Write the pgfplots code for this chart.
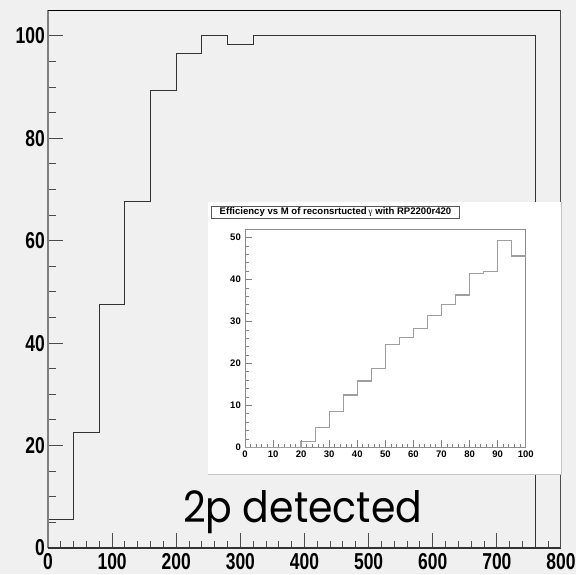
\documentclass[border=0pt]{standalone}
\usepackage{fontspec}
\setmainfont{Liberation Sans}
\newfontfamily\ticknarrow[FakeStretch=0.76]{Liberation Sans}
\newfontfamily\gammafont{Liberation Serif}
\newfontfamily\notefont{Poppins}
\usepackage{pgfplots}
\pgfplotsset{compat=1.18}
\definecolor{padgray}{HTML}{F0F0F0}

% efficiency histograms (bin left edge, content)
\pgfplotstableread{
x y
0 5.5
40 22.6
80 47.5
120 67.6
160 89.3
200 96.5
240 100
280 98.4
320 100
360 100
400 100
440 100
480 100
520 100
560 100
600 100
640 100
680 100
720 100
760 0
800 0
}\mainhist

\pgfplotstableread{
x y
0 0
5 0
10 0
15 0
20 1.4
25 4.8
30 8.5
35 12.5
40 15.8
45 18.8
50 24.5
55 26.2
60 28.4
65 31.4
70 34.0
75 36.3
80 41.5
85 42.0
90 49.4
95 45.6
100 45.6
}\insethist

\begin{document}
\begin{tikzpicture}[x=1pt,y=1pt]
\fill[padgray] (0,0) rectangle (576,574);

% main pad
\begin{axis}[
  at={(48pt,26pt)}, anchor=south west,
  scale only axis, width=513pt, height=537.7pt,
  xmin=0, xmax=800, ymin=0, ymax=105,
  xtick={0,100,...,800}, ytick={0,20,...,100},
  minor x tick num=4, minor y tick num=3,
  tick align=inside, tick pos=left,
  major tick length=15pt, minor tick length=7.5pt,
  every tick/.style={black!70, line width=1pt},
  axis line style={draw=none},
  /pgf/number format/assume math mode=true,
  tick label style={font=\ticknarrow\bfseries\fontsize{23}{24}\selectfont, inner sep=0pt},
  xticklabel style={anchor=base, yshift=-21pt},
  yticklabel style={anchor=east, xshift=-3pt},
  clip=false,
]
\addplot[const plot, black!80, line width=1pt] table[x=x, y=y] {\mainhist};
\draw[black!50, line width=2pt] (rel axis cs:0,0) -- (rel axis cs:0,1);
\draw[black!80, line width=1.6pt] (rel axis cs:0,0) -- (rel axis cs:1,0);
\draw[black, line width=1pt] (rel axis cs:0,1) -- (rel axis cs:1,1);
\draw[black!70, line width=1pt] (rel axis cs:1,0) -- (rel axis cs:1,1);
\end{axis}

% inset pad
\fill[white] (208,100) rectangle (561,372);
\draw[black!22, line width=0.8pt] (208,100) -- (561,100) -- (561,372);

\node[draw=black!65, fill=white, line width=0.8pt, minimum width=247.6pt,
      minimum height=11.6pt, inner sep=0pt,
      font=\bfseries\fontsize{9.56}{10}\selectfont]
  at (335.5, 361.5) {Efficiency vs M of reconsrtucted{\gammafont\mdseries\,γ} with RP2200r420};

\begin{axis}[
  at={(245pt,126.7pt)}, anchor=south west,
  scale only axis, width=280.7pt, height=218pt,
  xmin=0, xmax=100, ymin=0, ymax=52,
  xtick={0,10,...,100}, ytick={0,10,...,50},
  minor x tick num=4, minor y tick num=4,
  tick align=inside, tick pos=left,
  major tick length=7pt, minor tick length=3.5pt,
  every tick/.style={black!50, line width=0.8pt},
  axis line style={black!45, line width=0.8pt},
  /pgf/number format/assume math mode=true,
  tick label style={font=\bfseries\fontsize{9.5}{10}\selectfont, inner sep=0pt},
  xticklabel style={anchor=north, yshift=-3pt},
  yticklabel style={anchor=east, xshift=-4pt},
  axis background/.style={fill=white},
]
\addplot[const plot, black!38, line width=1.3pt] table[x=x, y=y] {\insethist};
\end{axis}

\node[anchor=base west, inner sep=0pt] at (183,52)
  {\resizebox{239pt}{32pt}{\notefont 2p detected}};

\pgfresetboundingbox
\useasboundingbox (0,0) rectangle (576,574);
\end{tikzpicture}
\end{document}
